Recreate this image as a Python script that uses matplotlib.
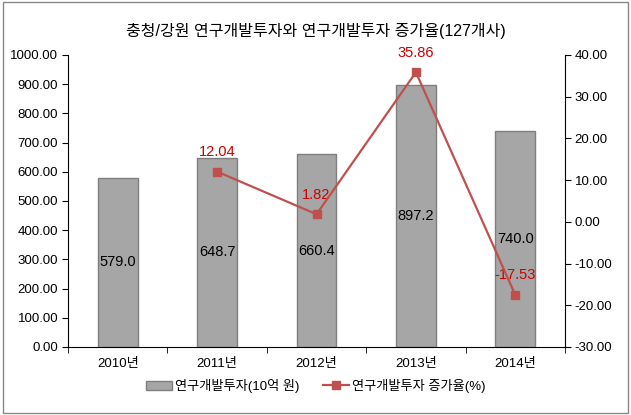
import numpy as np
import matplotlib.pyplot as plt
from matplotlib.patches import Rectangle

plt.rcParams['font.family'] = ['Liberation Sans', 'Noto Sans CJK KR', 'DejaVu Sans']

# data
years = ['2010년', '2011년', '2012년', '2013년', '2014년']
invest = [579.0, 648.7, 660.4, 897.2, 740.0]  # 10억 원
growth_years = [1, 2, 3, 4]
growth = [12.04, 1.82, 35.86, -17.53]  # %

title = '충청/강원 연구개발투자와 연구개발투자 증가율(127개사)'
bar_name = '연구개발투자(10억 원)'
line_name = '연구개발투자 증가율(%)'

bar_color = '#A6A6A6'
line_color = '#C0504D'
label_red = '#CC0000'

fig = plt.figure(figsize=(6.31, 4.15), dpi=100)
ax = fig.add_axes([0.1078, 0.1639, 0.7876, 0.7036])
ax2 = ax.twinx()

x = np.arange(len(years))
bars = ax.bar(x, invest, width=0.4, color=bar_color, edgecolor='#7F7F7F',
              linewidth=1, zorder=2, label=bar_name)
for xi, v in zip(x, invest):
    ax.text(xi, v / 2, f'{v:.1f}', ha='center', va='center', fontsize=10.5,
            color='black', zorder=5)

ax.set_xlim(-0.5, len(years) - 0.5)
ax.set_ylim(0, 1000)
ax.set_yticks(np.arange(0, 1001, 100))
ax.set_yticklabels([f'{v:.2f}' for v in np.arange(0, 1001, 100)], fontsize=9.5)
ax.set_xticks(x)
ax.set_xticklabels(years, fontsize=9.5)
ax.set_xticks(np.arange(-0.5, len(years), 1), minor=True)
ax.tick_params(axis='x', which='major', length=0, pad=8)
ax.tick_params(axis='x', which='minor', length=4, direction='out')
ax.tick_params(axis='y', length=4, direction='out', pad=3)
for s in ['top', 'right']:
    ax.spines[s].set_visible(False)

line, = ax2.plot(growth_years, growth, color=line_color, linewidth=1.6,
                 marker='s', markersize=6, zorder=4, label=line_name)
for xi, v in zip(growth_years, growth):
    ax2.annotate(f'{v:.2f}', (xi, v), xytext=(0, 9), textcoords='offset points',
                 ha='center', va='bottom', fontsize=10.5, color=label_red)
ax2.set_ylim(-30, 40)
ax2.set_yticks(np.arange(-30, 41, 10))
ax2.set_yticklabels([f'{v:.2f}' for v in np.arange(-30, 41, 10)], fontsize=9.5)
ax2.tick_params(axis='y', length=4, direction='out', pad=3)
for s in ['top', 'left', 'bottom']:
    ax2.spines[s].set_visible(False)

fig.text(0.5, 0.925, title, ha='center', va='center', fontsize=11.5)

fig.legend([bars, line], [bar_name, line_name], loc='center',
           bbox_to_anchor=(0.5, 0.07), ncol=2, frameon=False, fontsize=9.5,
           handlelength=2.0, columnspacing=1.8, handletextpad=0.2)

fig.patches.append(Rectangle((0.004, 0.005), 0.991, 0.99, transform=fig.transFigure,
                             fill=False, edgecolor='#888888', linewidth=1))

fig.savefig('out.png', dpi=100)
